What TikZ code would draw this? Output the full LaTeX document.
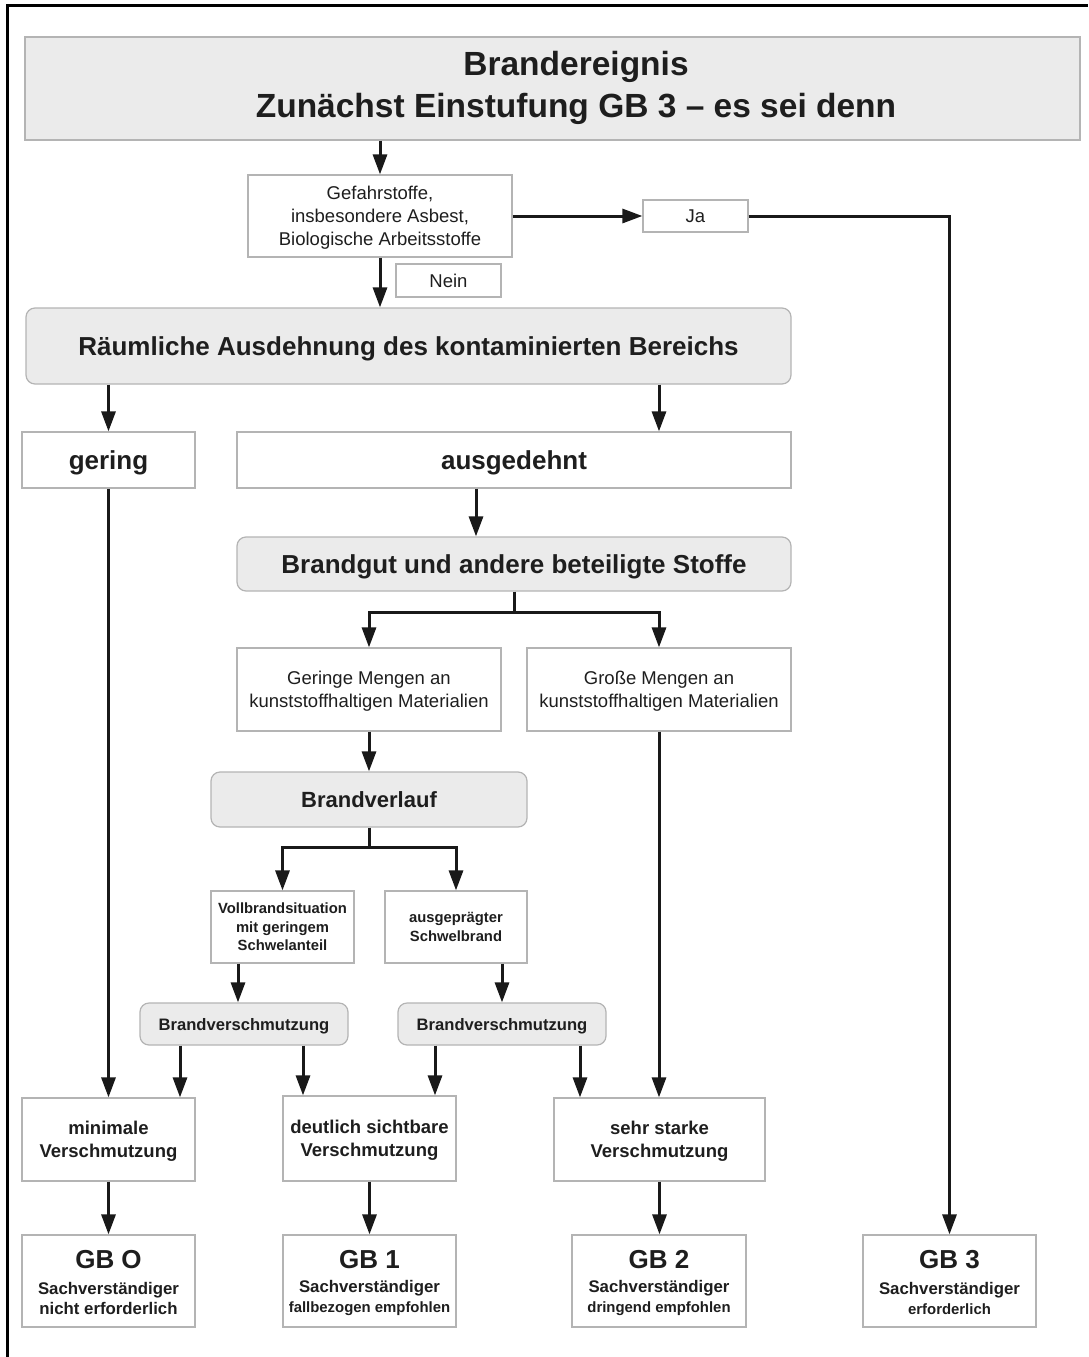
\documentclass[tikz,border=0pt]{standalone}
\usepackage{fontspec}
\setmainfont{Liberation Sans}
\usetikzlibrary{arrows.meta}
\definecolor{boxline}{HTML}{B4B4B4}
\definecolor{boxfill}{HTML}{EBEBEB}
\definecolor{txt}{HTML}{1E1E1E}
\tikzset{
  box/.style={draw=boxline, line width=1.2pt, fill=white, inner sep=0pt, text=txt, text depth=0pt},
  gbox/.style={box, fill=boxfill, rounded corners=9pt},
  tbox/.style={box, fill=boxfill},
  lbl/.style={inner sep=0pt, text=txt, align=center},
  conn/.style={line width=3pt, draw=black!90},
  arr/.style={conn, -{Triangle[length=20pt,width=14pt]}},
  darr/.style={conn, {Triangle[length=20pt,width=14pt]}-{Triangle[length=20pt,width=14pt]}},
  fbig/.style={font=\fontsize{26}{30}\selectfont\bfseries},
  freg/.style={font=\fontsize{18.5}{23}\selectfont},
  fmid/.style={font=\fontsize{18.5}{23}\selectfont\bfseries},
}
\begin{document}
\begin{tikzpicture}[x=1pt,y=-1pt]
\useasboundingbox (0,0) rectangle (1088,1357);
\fill[white] (0,0) rectangle (1088,1357);
% frame
\draw[line width=3pt] (7,1357) -- (7,5) -- (1088,5);

% title
\node[tbox, minimum width=1055pt, minimum height=103pt] (title) at (552.5,88.5) {};
\node[lbl, font=\fontsize{33.5}{42}\selectfont\bfseries] (titlet) at (576,88) {Brandereignis\\Zunächst Einstufung GB 3 – es sei denn};

\node[box, freg, align=center, minimum width=264pt, minimum height=82pt] (gef) at (380,216) {Gefahrstoffe,\\insbesondere Asbest,\\Biologische Arbeitsstoffe};
\node[box, freg, minimum width=105pt, minimum height=32pt] (ja) at (695.5,216) {Ja};
\node[box, freg, minimum width=105pt, minimum height=33pt] (nein) at (448.5,280.5) {Nein};

\node[gbox, fbig, minimum width=765pt, minimum height=76pt] (raum) at (408.5,346) {Räumliche Ausdehnung des kontaminierten Bereichs};
\node[box, fbig, minimum width=173pt, minimum height=56pt] (gering) at (108.5,460) {gering};
\node[box, fbig, minimum width=554pt, minimum height=56pt] (ausg) at (514,460) {ausgedehnt};
\node[gbox, fbig, minimum width=554pt, minimum height=54pt] (brandgut) at (514,564) {Brandgut und andere beteiligte Stoffe};

\node[box, freg, align=center, minimum width=264pt, minimum height=83pt] (geringe) at (369,689.5) {Geringe Mengen an\\kunststoffhaltigen Materialien};
\node[box, freg, align=center, minimum width=264pt, minimum height=83pt] (grosse) at (659,689.5) {Große Mengen an\\kunststoffhaltigen Materialien};

\node[gbox, font=\fontsize{22}{26}\selectfont\bfseries, minimum width=316pt, minimum height=55pt] (verlauf) at (369,799.5) {Brandverlauf};

\node[box, font=\fontsize{14.8}{18.5}\selectfont\bfseries, align=center, minimum width=143pt, minimum height=72pt] (voll) at (282.5,927) {Vollbrandsituation\\mit geringem\\Schwelanteil};
\node[box, font=\fontsize{14.8}{18.5}\selectfont\bfseries, align=center, minimum width=142pt, minimum height=72pt] (auspr) at (456,927) {ausgeprägter\\Schwelbrand};

\node[gbox, font=\fontsize{16.6}{20}\selectfont\bfseries, minimum width=208pt, minimum height=42pt] (bv1) at (244,1024) {Brandverschmutzung};
\node[gbox, font=\fontsize{16.6}{20}\selectfont\bfseries, minimum width=208pt, minimum height=42pt] (bv2) at (502,1024) {Brandverschmutzung};

\node[box, fmid, align=center, minimum width=173pt, minimum height=83pt] (minimale) at (108.5,1139.5) {minimale\\Verschmutzung};
\node[box, fmid, align=center, minimum width=173pt, minimum height=85pt] (deutlich) at (369.5,1138.5) {deutlich sichtbare\\Verschmutzung};
\node[box, fmid, align=center, minimum width=211pt, minimum height=83pt] (sehr) at (659.5,1139.5) {sehr starke\\Verschmutzung};

% GB boxes
\node[box, minimum width=173pt, minimum height=92pt] (gb0) at (108.5,1281) {};
\node[box, minimum width=173pt, minimum height=92pt] (gb1) at (369.5,1281) {};
\node[box, minimum width=174pt, minimum height=92pt] (gb2) at (659,1281) {};
\node[box, minimum width=173pt, minimum height=92pt] (gb3) at (949.5,1281) {};
\node[lbl, fbig] (gb0t) at (108.5,1260) {GB O};
\node[lbl, fbig] (gb1t) at (369.5,1260) {GB 1};
\node[lbl, fbig] (gb2t) at (659,1260) {GB 2};
\node[lbl, fbig] (gb3t) at (949.5,1260) {GB 3};
\node[lbl, font=\fontsize{16.8}{20}\selectfont\bfseries] (gb0s) at (108.5,1298) {Sachverständiger\\nicht erforderlich};
\node[lbl, font=\fontsize{16.8}{20}\selectfont\bfseries] (gb1s) at (369.5,1298) {Sachverständiger\\{\fontsize{14.9}{20}\selectfont fallbezogen empfohlen}};
\node[lbl, font=\fontsize{16.8}{20}\selectfont\bfseries] (gb2s) at (659,1298) {Sachverständiger\\{\fontsize{14.9}{20}\selectfont dringend empfohlen}};
\node[lbl, font=\fontsize{16.8}{20}\selectfont\bfseries] (gb3s) at (949.5,1298) {Sachverständiger\\{\fontsize{14.9}{20}\selectfont erforderlich}};

% helper x positions
\coordinate (x476) at (476,0);
\coordinate (x238) at (238,0);
\coordinate (x180) at (180,0);
\coordinate (x303) at (303,0);
\coordinate (x435) at (435,0);
\coordinate (x580) at (580,0);

% connectors
\draw[arr] (gef.north |- title.south) -- (gef.north);
\draw[arr] (gef.east) -- (ja.west);
\draw[arr] (ja.east) -| (gb3.north);
\draw[arr] (gef.south) -- (gef.south |- raum.north);
\draw[arr] (gering.north |- raum.south) -- (gering.north);
\draw[arr] (raum.south -| grosse.north) -- (ausg.north -| grosse.north);
\draw[arr] (gering.south) -- (minimale.north);
\draw[arr] (ausg.south -| x476) -- (brandgut.north -| x476);
\draw[conn] (brandgut.south) -- ++(0,21) coordinate (s1);
\draw[darr] (geringe.north) |- (s1) -| (grosse.north);
\draw[arr] (geringe.south) -- (verlauf.north);
\draw[arr] (grosse.south) -- (grosse.south |- sehr.north);
\draw[conn] (verlauf.south) -- ++(0,20) coordinate (s2);
\draw[darr] (voll.north) |- (s2) -| (auspr.north);
\draw[arr] (voll.south -| x238) -- (bv1.north -| x238);
\draw[arr] (auspr.south -| bv2.north) -- (bv2.north);
\draw[arr] (bv1.south -| x180) -- (minimale.north -| x180);
\draw[arr] (bv1.south -| x303) -- (deutlich.north -| x303);
\draw[arr] (bv2.south -| x435) -- (deutlich.north -| x435);
\draw[arr] (bv2.south -| x580) -- (sehr.north -| x580);
\draw[arr] (minimale.south) -- (gb0.north);
\draw[arr] (deutlich.south) -- (gb1.north);
\draw[arr] (sehr.south) -- (sehr.south |- gb2.north);
\end{tikzpicture}
\end{document}
